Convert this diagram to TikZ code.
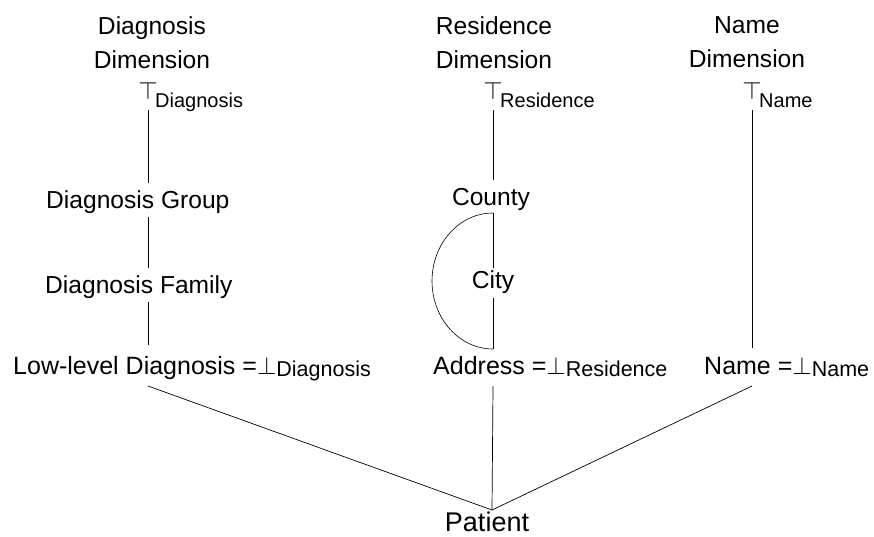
\documentclass[tikz,border=0pt]{standalone}
\usepackage{fontspec}
\setmainfont{Liberation Sans}
\begin{document}
\begin{tikzpicture}[x=1pt,y=-1pt,
  ttl/.style={font=\fontsize{24.6}{34}\selectfont, inner sep=0pt, align=center, anchor=north},
  lbl/.style={font=\fontsize{24.6}{30}\selectfont, inner sep=0pt, anchor=base},
  low/.style={font=\fontsize{25}{30}\selectfont, inner sep=0pt, anchor=base west},
  sym/.style={font=\fontsize{24.6}{30}\selectfont, inner sep=0pt, anchor=base},
  subl/.style={font=\fontsize{20}{24}\selectfont, inner sep=0pt, anchor=base west},
  edge/.style={draw=black, line width=0.7pt}]
\newcommand{\subtxt}[1]{\raisebox{-2pt}{\fontsize{21.5}{24}\selectfont #1}}
\useasboundingbox (0,0) rectangle (874,537);

% spines of the three hierarchies
\coordinate (dS) at (148,0);
\coordinate (rS) at (493,0);
\coordinate (nS) at (752,0);

% dimension titles
\node[ttl] (dTitle) at (152,16) {Diagnosis\\Dimension};
\node[ttl] (rTitle) at (494,16) {Residence\\Dimension};
\node[ttl] (nTitle) at (747,16) {Name\\Dimension};

% top elements
\node[sym] (dTop) at (148,100) {$\top$};
\node[subl] (dTopL) at (155,108) {Diagnosis};
\node[sym] (rTop) at (493,100) {$\top$};
\node[subl] (rTopL) at (500,108) {Residence};
\node[sym] (nTop) at (752,100) {$\top$};
\node[subl] (nTopL) at (759,108) {Name};

% diagnosis levels
\node[lbl, anchor=base west] (dGroup) at (46,208) {Diagnosis Group};
\node[lbl, anchor=base west] (dFam) at (45,293) {Diagnosis Family};
\node[low] (dLow) at (13,374) {Low-level Diagnosis =$\bot$\subtxt{Diagnosis}};

% residence levels
\node[lbl] (county) at (491,206) {County};
\node[lbl] (city) at (493,288) {City};
\node[low] (addr) at (433,374) {Address =$\bot$\subtxt{Residence}};

% name level
\node[low] (name) at (704,374) {Name =$\bot$\subtxt{Name}};

% fact
\node[lbl, font=\fontsize{27}{32}\selectfont] (pat) at (487,531) {Patient};
\coordinate (apex) at (492,510);

% hierarchy edges
\draw[edge] (dS |- 0,110) -- (dS |- 0,183);
\draw[edge] (dS |- 0,217) -- (dS |- 0,268);
\draw[edge] (dS |- 0,302) -- (dS |- 0,345);

\draw[edge] (rS |- 0,110) -- (rS |- 0,180);
\draw[edge] (rS |- 0,213) -- (rS |- 0,268);
\draw[edge] (rS |- 0,298) -- (rS |- 0,349);
\draw[edge, line width=0.6pt] (rS |- 0,213) arc[start angle=270, end angle=90, x radius=61, y radius=68];

\draw[edge] (nS |- 0,110) -- (nS |- 0,348);

% edges to the fact
\draw[edge] (dS |- 0,386) -- (apex);
\draw[edge] (rS |- 0,386) -- (apex);
\draw[edge] (nS |- 0,386) -- (apex);
\end{tikzpicture}
\end{document}
